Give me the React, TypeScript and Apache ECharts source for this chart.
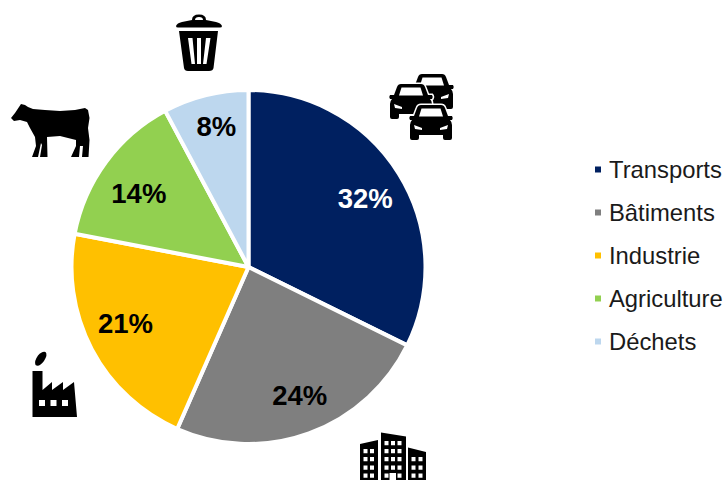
import React, { useEffect, useRef } from "react";
import * as echarts from "echarts";

const categories = ["Transports", "Bâtiments", "Industrie", "Agriculture", "Déchets"];
const shares = [32.3, 24.3, 21.4, 14.2, 7.8];
const sliceColors = ["#002060", "#7F7F7F", "#FFC000", "#92D050", "#BDD7EE"];
const labelColors = ["#FFFFFF", "#000000", "#000000", "#000000", "#000000"];
const labelOffsets = [[39, -20], [20, 43], [-42, 14], [-36, -19], [-10, -52]];

const rect = (x: number, y: number, w: number, h: number) =>
  `M${x} ${y}L${x} ${y + h}L${x + w} ${y + h}L${x + w} ${y}Z`; // counter-clockwise: punches a hole

const grid = (xs: number[], ys: number[], w: number, h: number) =>
  xs.map((x) => ys.map((y) => rect(x, y, w, h)).join("")).join("");

const TRASH =
  "M176 26Q177 23 182 22L192 20Q192 14.5 199 14.5Q206 14.5 206 20L216 22Q221 23 222 26Q222 27.5 220 27.5L178 27.5Q176 27.5 176 26Z" +
  "M195 20L203 20Q203 17 199 17Q195 17 195 20Z" +
  "M179 31L218 31L213.5 68Q213 71 209 71L188 71Q184.5 71 184 68Z" +
  "M188 38L191.5 64L195 64L192.5 38Z" +
  "M197 38L197 64L201 64L201 38Z" +
  "M206 38L203 64L206.5 64L210.5 38Z";

const COW =
  "M11 118L15 113L19 107L21 104L25 105L28 107L33 109L45 110L60 111L75 110L85 108L88 110L89.5 118L88 128L89.5 140L88.5 157L82 157L83 146L80 146L79 157L71 157L76 146L76 140L72 139L60 136L47 137L47.5 157L40 157L42 145L41 143L38 157L32 157L36 146L35 137L30 128L27 122L20 120L14 121Z";

const FACTORY =
  "M32.5 371L42.5 371L42.5 390L52 382L52 390L63 382L63 390L74 382L77 417L32.5 417Z" +
  rect(39, 400, 6, 6) + rect(50.5, 400, 6, 6) + rect(62, 400, 6, 6) +
  "M35.5 365Q34 361 38 355.5Q42 351 45.5 352Q48 354.5 44 361Q39 367.5 35.5 365Z";

const CITY =
  "M360 444L378 440L378 480L360 480Z" + grid([363.5, 370], [449, 457, 465.5, 473.5], 4, 4.3) +
  "M381 432.5L406 436.5L406 480L381 480Z" + grid([384.5, 391, 397.5], [441, 449, 457, 465.5], 4, 4.3) +
  grid([384.5, 397.5], [473.5], 4, 4.3) + rect(389.5, 473, 6.5, 7) +
  "M408 447.5L426 452L426 480L408 480Z" + grid([411.5, 418.5], [457, 465.5, 473.5], 4, 4.3);

const CAR_BODY =
  "M12 0L32 0Q35 0 36 3L39 11L43 11Q44.5 13 43 15L41 15Q43 17 43 20L43 33Q43 35 41 35L36 35Q34 35 34 33L34 30L10 30L10 33Q10 35 8 35L3 35Q1 35 1 33L1 20Q1 17 3 15L1 15Q-0.5 13 1 11L5 11L8 3Q9 0 12 0Z";
const CAR =
  CAR_BODY +
  "M12.5 3.5L10 11.5L34 11.5L31.5 3.5Z" +
  "M5 20L6 24L13 25L13 23Z" +
  "M39 20L31 23L31 25L38 24Z";

const path = (d: string) => echarts.graphic.extendPath(d, {});
echarts.graphic.registerShape("trashIcon", path(TRASH));
echarts.graphic.registerShape("cowIcon", path(COW));
echarts.graphic.registerShape("factoryIcon", path(FACTORY));
echarts.graphic.registerShape("cityIcon", path(CITY));
echarts.graphic.registerShape("carIcon", path(CAR));
echarts.graphic.registerShape("carHalo", path(CAR_BODY));

export default function App() {
  const ref = useRef<HTMLDivElement>(null);
  useEffect(() => {
    const chart = echarts.init(ref.current!, undefined, { renderer: "svg" });
    const black = { fill: "#000000" };
    const car = (x: number, y: number, z: number) => [
      { type: "carHalo", x, y, z, silent: true, style: { fill: "#FFFFFF", stroke: "#FFFFFF", lineWidth: 3 } },
      { type: "carIcon", x, y, z: z + 1, silent: true, style: { fill: "#000000" } },
    ];
    chart.setOption({
      animation: false,
      backgroundColor: "#FFFFFF",
      legend: {
        orient: "vertical",
        left: 588,
        top: 151,
        itemWidth: 8,
        itemHeight: 8,
        itemGap: 16,
        icon: "rect",
        selectedMode: false,
        data: categories,
        textStyle: {
          fontFamily: "Liberation Sans",
          fontSize: 23.8,
          color: "#1A1A1A",
          lineHeight: 27,
          padding: [0, 0, 0, 2],
        },
      },
      graphic: [
        { type: "trashIcon", x: 0, y: 0, silent: true, style: black },
        { type: "cowIcon", x: 0, y: 0, silent: true, style: black },
        { type: "factoryIcon", x: 0, y: 0, silent: true, style: black },
        { type: "cityIcon", x: 0, y: 0, silent: true, style: black },
        ...car(410, 74, 1),
        ...car(389, 84, 3),
        ...car(409, 105, 5),
      ],
      series: [
        {
          type: "pie",
          center: [248.5, 267],
          radius: [0, 177],
          startAngle: 90,
          clockwise: true,
          legendHoverLink: false,
          itemStyle: { borderColor: "#FFFFFF", borderWidth: 4 },
          labelLine: { show: false },
          data: categories.map((name, i) => ({
            name,
            value: shares[i],
            itemStyle: { color: sliceColors[i] },
            label: {
              show: true,
              position: "inside",
              formatter: `${Math.round(shares[i])}%`,
              color: labelColors[i],
              fontFamily: "Liberation Sans",
              fontWeight: "bold",
              fontSize: 27.5,
              offset: labelOffsets[i],
            },
          })),
        },
      ],
    });
    return () => chart.dispose();
  }, []);
  return (
    <div
      ref={ref}
      style={{ position: "fixed", left: 0, top: 0, width: 724, height: 480 }}
    />
  );
}
